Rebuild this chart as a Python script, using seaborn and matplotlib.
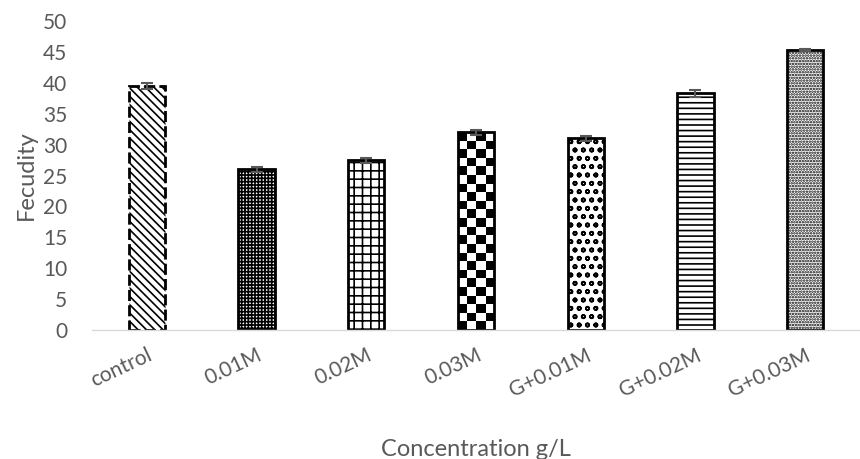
import numpy as np
import pandas as pd
import matplotlib
matplotlib.use('Agg')
from matplotlib import pyplot as plt
import seaborn as sns

# values
groups = ['control', '0.01M', '0.02M', '0.03M', 'G+0.01M', 'G+0.02M', 'G+0.03M']
fecundity = [39.5, 26.0, 27.5, 32.0, 31.0, 38.3, 45.3]
errors = [0.5, 0.45, 0.4, 0.45, 0.35, 0.55, 0.2]
hatches = ['\\\\\\\\', '+++++', '++', None, 'oo', '---', '......']

grey = '#595959'


def main():
    sns.set_style('white')
    plt.rcParams['font.family'] = ['Lato', 'DejaVu Sans']
    plt.rcParams['hatch.linewidth'] = 1.2
    plt.rcParams['hatch.color'] = 'black'

    df = pd.DataFrame({'group': groups, 'fecundity': fecundity})

    fig = plt.figure(figsize=(8.6, 4.59), dpi=100)
    ax = fig.add_axes([0.107, 0.281, 0.893, 0.673])

    sns.barplot(data=df, x='group', y='fecundity', color='white',
                edgecolor='black', linewidth=2, width=0.33,
                errorbar=None, ax=ax)

    for i, p in enumerate(ax.patches):
        if hatches[i]:
            p.set_hatch(hatches[i])
        if i == 0:
            p.set_linestyle((0, (4, 1.5)))
        if i == 3:
            # checkerboard fill, clipped to the bar
            x0, w, h = p.get_x(), p.get_width(), p.get_height()
            ny = int(round(h / 1.4))
            board = np.indices((ny, 4)).sum(axis=0) % 2
            im = ax.imshow(board, cmap='gray', extent=[x0, x0 + w, 0, h],
                           interpolation='nearest', aspect='auto', zorder=p.get_zorder())
            im.set_clip_path(p)
            p.set_zorder(p.get_zorder() + 0.1)
            p.set_facecolor('none')

    ax.errorbar(range(len(groups)), fecundity, yerr=errors, fmt='none',
                ecolor=grey, elinewidth=1.5, capsize=4, capthick=1.5, zorder=5)

    ax.set_xlim(-0.5, 6.5)
    ax.set_ylim(0, 50)
    ax.set_yticks(range(0, 51, 5))
    ax.tick_params(axis='both', colors=grey, labelsize=15, length=0)
    plt.setp(ax.get_xticklabels(), rotation=25, ha='right', rotation_mode='anchor')
    ax.tick_params(axis='x', pad=11)
    ax.tick_params(axis='y', pad=18)

    for s in ['top', 'right', 'left']:
        ax.spines[s].set_visible(False)
    ax.spines['bottom'].set_color('#d9d9d9')
    ax.spines['bottom'].set_linewidth(1)

    ax.set_xlabel('Concentration g/L', color=grey, fontsize=17, labelpad=28)
    ax.set_ylabel('Fecudity', color=grey, fontsize=17, labelpad=4)

    fig.savefig('out.png', dpi=100)


if __name__ == '__main__':
    main()
